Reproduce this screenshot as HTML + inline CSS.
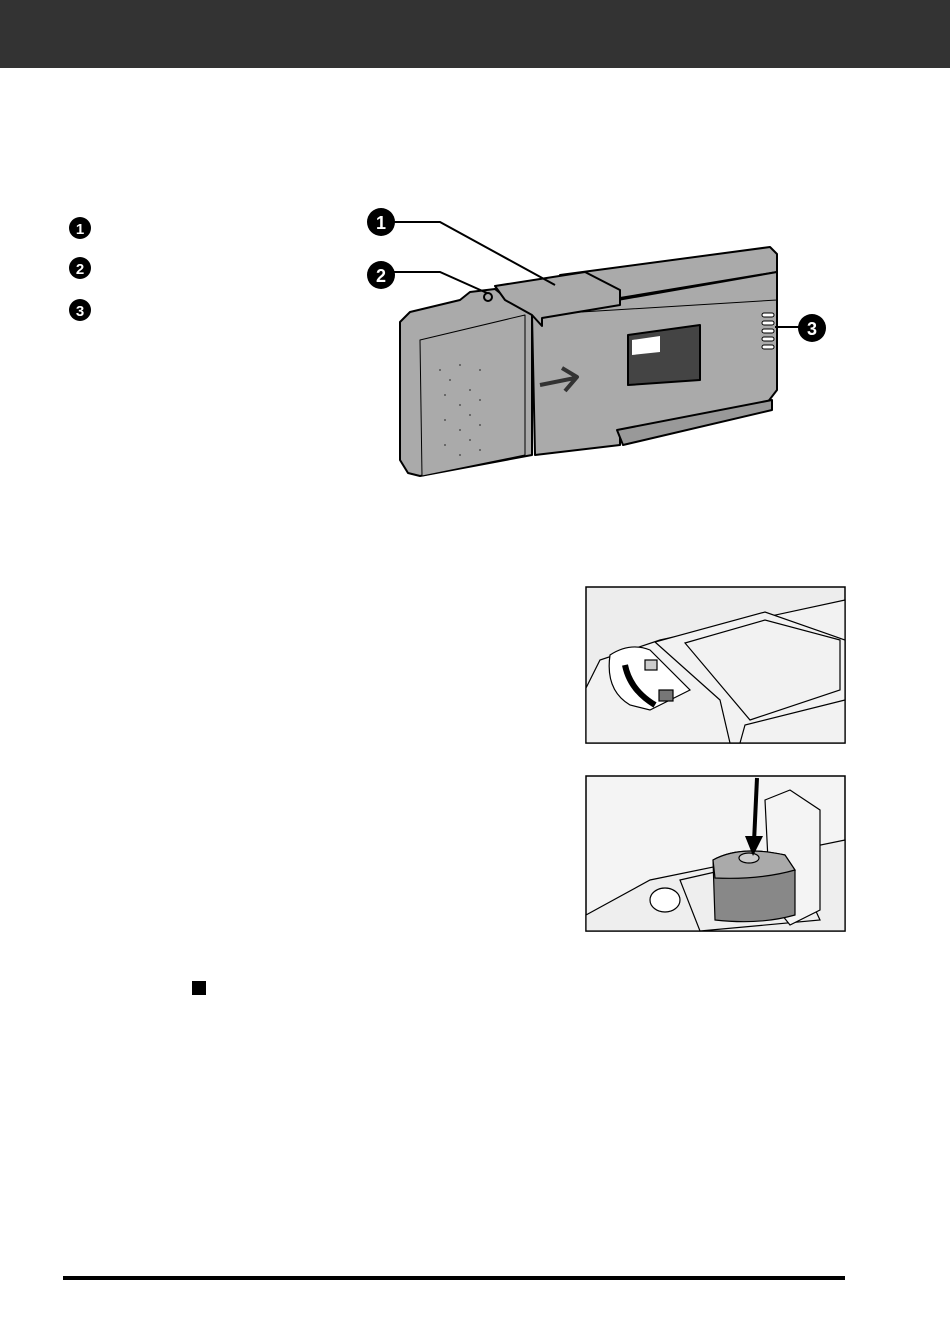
<!DOCTYPE html>
<html><head><meta charset="utf-8"><style>
html,body{margin:0;padding:0;background:#fff;}
body{width:950px;height:1342px;position:relative;overflow:hidden;font-family:"Liberation Sans",sans-serif;}
.hdr{position:absolute;left:0;top:0;width:950px;height:68px;background:#333;}
</style></head><body>
<div class="hdr"></div>
<svg width="950" height="1342" style="position:absolute;left:0;top:0" xmlns="http://www.w3.org/2000/svg">
<g font-family="Liberation Sans, sans-serif" font-weight="bold" font-size="15" fill="#fff" text-anchor="middle">
<circle cx="80" cy="228" r="11" fill="#000"/><text x="80" y="234">1</text>
<circle cx="80" cy="268" r="11" fill="#000"/><text x="80" y="274">2</text>
<circle cx="80" cy="310" r="11" fill="#000"/><text x="80" y="316">3</text>
</g>
<!-- main device -->
<g stroke="#000" stroke-width="2" stroke-linejoin="round">
<polygon points="560,275 770,247 777,254 777,272 620,298" fill="#aaa"/>
<polygon points="777,272 777,390 767,403 620,430 620,445 535,455 532,315" fill="#aaa"/>
<polygon points="532,315 620,298 777,272 777,300" fill="none" stroke-width="1"/>
<polygon points="400,322 410,312 460,300 470,292 495,289 505,297 532,293 532,455 420,476 408,473 400,460" fill="#aaa"/>
<polygon points="420,340 525,315 525,455 422,476" fill="#aaa" stroke-width="1"/>
<polygon points="495,286 585,272 620,290 620,305 542,318 542,326 532,315 505,300" fill="#aaa"/>
<polygon points="617,430 772,400 772,410 623,445" fill="#999"/>
<polygon points="628,335 700,325 700,380 628,385" fill="#444"/>
<polygon points="632,340 660,336 660,352 632,355" fill="#fff" stroke="none"/>
<line x1="540" y1="385" x2="575" y2="378" stroke="#333" stroke-width="4"/>
<polyline points="562,368 577,377 565,391" fill="none" stroke="#333" stroke-width="4"/>
<circle cx="488" cy="297" r="4" fill="#aaa"/>
</g>
<g fill="#fff" stroke="#000" stroke-width="1">
<rect x="762" y="313" width="12" height="4" rx="2"/><rect x="762" y="321" width="12" height="4" rx="2"/><rect x="762" y="329" width="12" height="4" rx="2"/><rect x="762" y="337" width="12" height="4" rx="2"/><rect x="762" y="345" width="12" height="4" rx="2"/>
</g>
<g fill="#555">
<circle cx="440" cy="370" r="1"/><circle cx="450" cy="380" r="1"/><circle cx="460" cy="365" r="1"/><circle cx="445" cy="395" r="1"/><circle cx="460" cy="405" r="1"/><circle cx="445" cy="420" r="1"/><circle cx="460" cy="430" r="1"/><circle cx="445" cy="445" r="1"/><circle cx="460" cy="455" r="1"/><circle cx="470" cy="390" r="1"/><circle cx="470" cy="415" r="1"/><circle cx="470" cy="440" r="1"/><circle cx="480" cy="370" r="1"/><circle cx="480" cy="400" r="1"/><circle cx="480" cy="425" r="1"/><circle cx="480" cy="450" r="1"/>
</g>
<!-- leaders -->
<g stroke="#000" stroke-width="2" fill="none">
<polyline points="380,222 440,222 555,285"/>
<polyline points="380,272 440,272 487,293"/>
<line x1="775" y1="327" x2="810" y2="327"/>
</g>
<g font-family="Liberation Sans, sans-serif" font-weight="bold" font-size="18" fill="#fff" text-anchor="middle">
<circle cx="381" cy="222" r="14" fill="#000"/><text x="381" y="229">1</text>
<circle cx="381" cy="275" r="14" fill="#000"/><text x="381" y="282">2</text>
<circle cx="812" cy="328" r="14" fill="#000"/><text x="812" y="335">3</text>
</g>
<!-- photo 1 -->
<rect x="586" y="587" width="259" height="156" fill="#ededed" stroke="#000" stroke-width="1.5"/>
<g stroke="#000" stroke-width="1.2" fill="#f2f2f2">
<polygon points="586,688 600,660 660,640 845,600 845,743 586,743"/>
<polygon points="655,642 765,612 845,640 845,700 745,725 740,743 730,743 720,700"/>
<polygon points="685,643 765,620 840,640 840,690 750,720"/>
<path d="M610,655 Q630,642 650,650 L690,690 L650,710 L630,705 Q605,690 610,655Z" fill="#fff"/>
<path d="M625,665 Q630,690 655,705" stroke="#000" stroke-width="6" fill="none"/>
<rect x="645" y="660" width="12" height="10" fill="#ccc"/>
<rect x="659" y="690" width="14" height="11" fill="#777"/>
</g>
<!-- photo 2 -->
<rect x="586" y="776" width="259" height="155" fill="#f4f4f4" stroke="#000" stroke-width="1.5"/>
<g stroke="#000" stroke-width="1.2" fill="#eee">
<polygon points="586,915 650,880 845,840 845,931 586,931"/>
<polygon points="680,880 790,855 820,920 700,931"/>
<polygon points="765,800 790,790 820,810 820,910 790,925 770,900" fill="#f4f4f4"/>
<path d="M713,860 Q740,845 785,855 L795,870 L795,915 Q760,925 715,920 Z" fill="#888"/>
<path d="M713,860 Q740,845 785,855 L795,870 Q760,880 715,878 Z" fill="#aaa"/>
<ellipse cx="749" cy="858" rx="10" ry="5" fill="#ccc"/>
<ellipse cx="665" cy="900" rx="15" ry="12" fill="#fff"/>
</g>
<line x1="757" y1="778" x2="754" y2="842" stroke="#000" stroke-width="4"/>
<polygon points="745,836 763,836 753,856" fill="#000"/>
<rect x="192" y="981" width="14" height="14" fill="#000"/>
<rect x="63" y="1276" width="782" height="4" fill="#000"/>
</svg>
</body></html>
